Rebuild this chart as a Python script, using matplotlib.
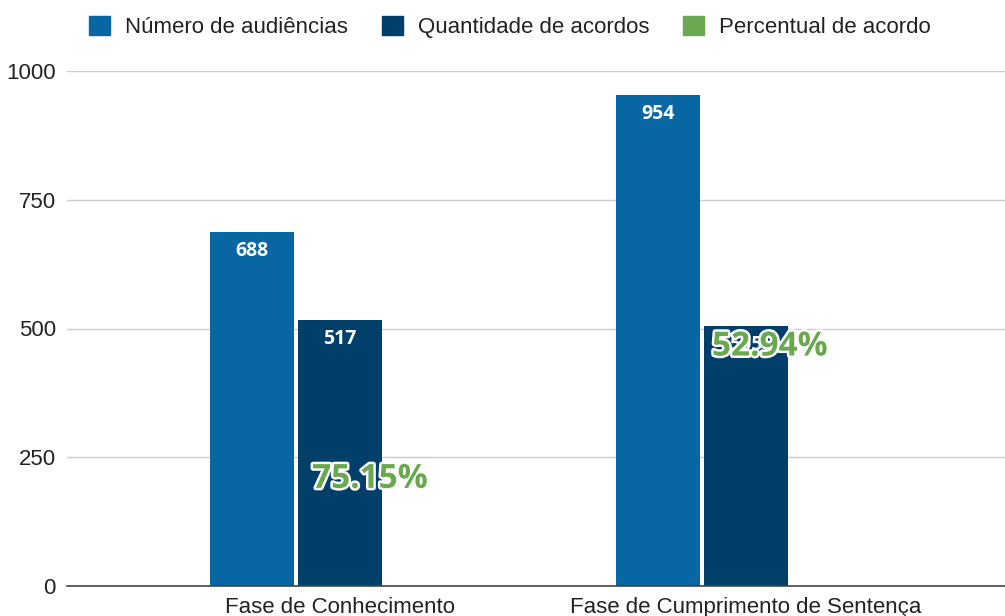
import matplotlib
matplotlib.use("Agg")
import matplotlib.pyplot as plt
import matplotlib.patheffects as pe
import numpy as np

categories = ["Fase de Conhecimento", "Fase de Cumprimento de Sentença"]
audiencias = [688, 954]
acordos = [517, 505]
percentual = [75.15, 52.94]
series_names = ["Número de audiências", "Quantidade de acordos", "Percentual de acordo"]
yticks = [0, 250, 500, 750, 1000]

colors = ["#0866a2", "#003f69", "#6aa84f"]

plt.rcParams["font.family"] = ["Liberation Sans", "DejaVu Sans"]

fig = plt.figure(figsize=(10.05, 6.16), dpi=100)
ax = fig.add_axes([67 / 1005, 1 - 586 / 616, 1 - 67 / 1005, (586 - 71) / 616])

x = np.arange(len(categories))
w = 0.207
step = 0.217

b1 = ax.bar(x - step, audiencias, w, color=colors[0], zorder=3)
b2 = ax.bar(x, acordos, w, color=colors[1], zorder=3)
# third series lives on a percent scale, so it is practically invisible here
b3 = ax.bar(x + step, [p / 100 for p in percentual], w, color=colors[2], zorder=3)

for bars, vals in [(b1, audiencias), (b2, acordos)]:
    for rect, v in zip(bars, vals):
        ax.text(rect.get_x() + rect.get_width() / 2, v - 37, str(v),
                ha="center", va="center", color="white", fontsize=14,
                fontweight="bold", family="Open Sans", zorder=4)

# percent labels as they sit in the original
pct_pos = [(0.074, 207), (0.059, 464)]
for xi, p, (dx, yv) in zip(x, percentual, pct_pos):
    ax.text(xi + dx, yv, f"{p:.2f}%", ha="center", va="center",
            color=colors[2], fontsize=24, fontweight="bold", family="Open Sans",
            zorder=5, path_effects=[pe.withStroke(linewidth=3.5, foreground="white")])

ax.set_ylim(0, 1000)
ax.set_xlim(-273 / 406, 1 + (1005 - 746) / 406)
ax.set_yticks(yticks)
ax.set_xticks(x)
ax.set_xticklabels(categories, fontsize=16, color="#222222")
ax.tick_params(axis="y", length=0, labelsize=16, labelcolor="#222222", pad=8)
ax.tick_params(axis="x", length=0, pad=8)
ax.grid(axis="y", color="#cccccc", linewidth=1, zorder=0)
for s in ["top", "right", "left"]:
    ax.spines[s].set_visible(False)
ax.spines["bottom"].set_color("#444444")
ax.spines["bottom"].set_linewidth(1.2)
ax.spines["bottom"].set_zorder(4)

handles = [plt.Rectangle((0, 0), 1, 1, color=c) for c in colors]
fig.legend(handles, series_names, loc="center", bbox_to_anchor=(510 / 1005, 1 - 27 / 616),
           ncol=3, frameon=False, fontsize=16, handlelength=0.95, handleheight=0.95,
           handletextpad=0.68, columnspacing=1.5, labelcolor="#222222")

fig.savefig("out.png", dpi=100)
